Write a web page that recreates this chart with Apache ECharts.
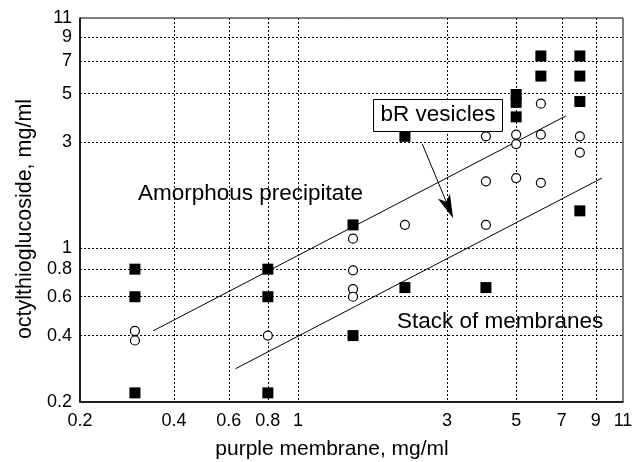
<!DOCTYPE html>
<html><head><meta charset="utf-8">
<script src="https://cdn.jsdelivr.net/npm/echarts@6/dist/echarts.min.js"></script>
<style>html,body{margin:0;padding:0;background:#fff}#c{width:635px;height:462px}</style>
</head><body><div id="c"></div>
<script>
// Tick values (mg/ml)
const xTicks = [0.2, 0.4, 0.6, 0.8, 1, 3, 5, 7, 9, 11];
const yTicks = [0.2, 0.4, 0.6, 0.8, 1, 3, 5, 7, 9, 11];
const xRange = [0.2, 11];
const yRange = [0.2, 11];

// Filled squares: [purple membrane, octylthioglucoside]
const squares = [
  [0.3, 0.8], [0.3, 0.6], [0.3, 0.22],
  [0.8, 0.8], [0.8, 0.6], [0.8, 0.22],
  [1.5, 1.27], [1.5, 0.4],
  [2.2, 3.2], [2.2, 0.66],
  [4, 0.66],
  [5, 4.95], [5, 4.56], [5, 3.92],
  [6, 7.4], [6, 6.0],
  [8, 7.4], [8, 6.0], [8, 4.6], [8, 1.47]
];
// Open circles (bR vesicles)
const circles = [
  [0.3, 0.42], [0.3, 0.38],
  [0.8, 0.4],
  [1.5, 1.1], [1.5, 0.79], [1.5, 0.65], [1.5, 0.6],
  [2.2, 1.27],
  [4, 3.2], [4, 2.0], [4, 1.27],
  [5, 3.26], [5, 2.95], [5, 2.07],
  [6, 4.5], [6, 3.26], [6, 1.97],
  [8, 3.2], [8, 2.7]
];
// Phase boundary lines
const upperBoundary = [[0.343, 0.42], [7.22, 3.96]];
const lowerBoundary = [[0.63, 0.283], [9.42, 2.07]];
// Annotation arrow (from label box to arrow tip)
const arrowLine = [[2.5, 2.955], [3.14, 1.36]];

const L = v => Math.log10(v);
const tp = p => [L(p[0]), L(p[1])];
const fmt = v => String(parseFloat(Math.pow(10, v).toPrecision(3)));
const FONT = 'Liberation Sans, Arial, Helvetica, sans-serif';
const grid = [0.4, 0.6, 0.8, 1, 3, 5, 7, 9];

const chart = echarts.init(document.getElementById('c'), null, {renderer: 'canvas'});
chart.setOption({
  animation: false,
  backgroundColor: '#fff',
  grid: {left: 80, right: 12, top: 18, bottom: 60, show: true, borderColor: '#000', borderWidth: 1, outerBoundsMode: 'none'},
  xAxis: {
    type: 'value', min: L(xRange[0]), max: L(xRange[1]),
    name: 'purple membrane, mg/ml', nameLocation: 'middle', nameGap: 37,
    nameTextStyle: {fontFamily: FONT, fontSize: 21, color: '#000', padding: [0, 39, 0, 0]},
    axisLine: {onZero: false, lineStyle: {color: '#000', width: 1.5}},
    axisTick: {show: false, customValues: grid.map(L)},
    axisLabel: {customValues: xTicks.map(L), formatter: fmt, fontFamily: FONT, fontSize: 18, color: '#000', margin: 10},
    splitLine: {show: true, lineStyle: {color: '#000', width: 1, type: [2, 2]}}
  },
  yAxis: {
    type: 'value', min: L(yRange[0]), max: L(yRange[1]),
    name: 'octylthioglucoside, mg/ml', nameLocation: 'middle', nameGap: 42,
    nameTextStyle: {fontFamily: FONT, fontSize: 21.5, color: '#000', padding: [0, 18, 0, 0]},
    axisLine: {onZero: false, lineStyle: {color: '#000', width: 1.5}},
    axisTick: {show: false, customValues: grid.map(L)},
    axisLabel: {customValues: yTicks.map(L), formatter: fmt, fontFamily: FONT, fontSize: 18, color: '#000', margin: 8},
    splitLine: {show: true, lineStyle: {color: '#000', width: 1, type: [2, 2]}}
  },
  series: [
    {type: 'line', data: upperBoundary.map(tp), symbol: 'none', lineStyle: {color: '#000', width: 1}, z: 3},
    {type: 'line', data: lowerBoundary.map(tp), symbol: 'none', lineStyle: {color: '#000', width: 1}, z: 3},
    {type: 'scatter', data: squares.map(tp), symbol: 'rect', symbolSize: 11,
      itemStyle: {color: '#000', opacity: 1}, z: 5},
    {type: 'scatter', data: circles.map(tp), symbol: 'circle', symbolSize: 9,
      itemStyle: {color: '#fff', borderColor: '#000', borderWidth: 1.2, opacity: 1}, z: 5}
  ]
});

// Arrow annotation positioned through the chart's own coordinate conversion
const a0 = chart.convertToPixel({gridIndex: 0}, tp(arrowLine[0]));
const a1 = chart.convertToPixel({gridIndex: 0}, tp(arrowLine[1]));
const dx = a1[0] - a0[0], dy = a1[1] - a0[1];
const len = Math.hypot(dx, dy), ux = dx / len, uy = dy / len;
const px = -uy, py = ux;
const headLen = 24, headW = 6.5, notch = 6;
const base = [a1[0] - ux * headLen, a1[1] - uy * headLen];
const notchPt = [a1[0] - ux * (headLen - notch), a1[1] - uy * (headLen - notch)];

chart.setOption({
  graphic: [
    {type: 'text', x: 138, y: 194, z: 10, style: {text: 'Amorphous precipitate', font: '22.5px ' + FONT, fill: '#000', verticalAlign: 'middle'}},
    {type: 'text', x: 397, y: 322, z: 10, style: {text: 'Stack of membranes', font: '22.5px ' + FONT, fill: '#000', verticalAlign: 'middle'}},
    {type: 'line', z: 9, shape: {x1: a0[0], y1: a0[1], x2: notchPt[0], y2: notchPt[1]}, style: {stroke: '#000', lineWidth: 1}},
    {type: 'polygon', z: 9, shape: {points: [
      a1,
      [base[0] + px * headW, base[1] + py * headW],
      notchPt,
      [base[0] - px * headW, base[1] - py * headW]
    ]}, style: {fill: '#000'}},
    {type: 'rect', shape: {x: 373.5, y: 99.5, width: 129, height: 32}, z: 10, style: {fill: '#fff', stroke: '#000', lineWidth: 1}},
    {type: 'text', x: 438, y: 115, z: 11, style: {text: 'bR vesicles', font: '22.5px ' + FONT, fill: '#000', align: 'center', verticalAlign: 'middle'}}
  ]
});
</script>
</body></html>
